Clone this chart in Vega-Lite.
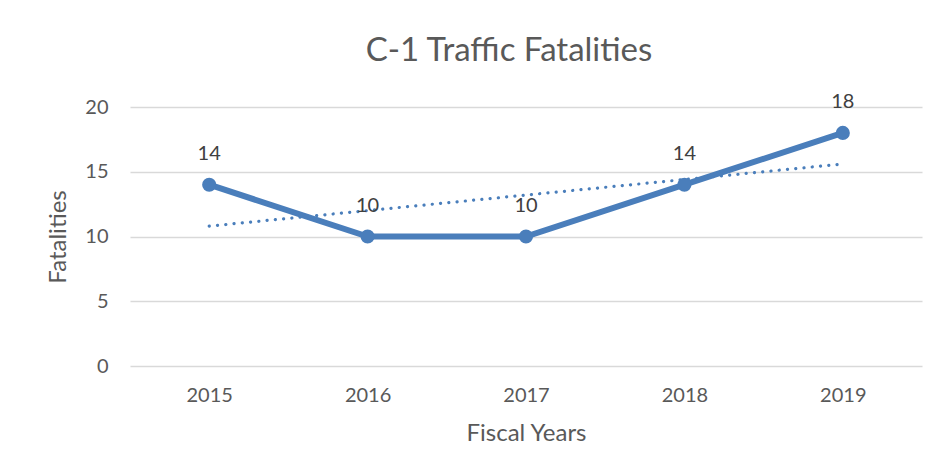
{
  "$schema": "https://vega.github.io/schema/vega-lite/v6.json",
  "autosize": "none",
  "width": 792,
  "height": 259,
  "padding": {"left": 130, "top": 107, "right": 18, "bottom": 110},
  "background": "white",
  "title": {
    "text": "C-1 Traffic Fatalities",
    "font": "Lato",
    "fontSize": 33,
    "fontWeight": "normal",
    "color": "#595959",
    "anchor": "middle",
    "dx": -17,
    "offset": 24
  },
  "data": {
    "values": [
      {"year": "2015", "fatalities": 14, "trend": 10.8},
      {"year": "2016", "fatalities": 10, "trend": 12.0},
      {"year": "2017", "fatalities": 10, "trend": 13.2},
      {"year": "2018", "fatalities": 14, "trend": 14.4},
      {"year": "2019", "fatalities": 18, "trend": 15.6}
    ]
  },
  "encoding": {
    "x": {
      "field": "year",
      "type": "ordinal",
      "scale": {"type": "point", "padding": 0.5},
      "axis": {
        "title": "Fiscal Years",
        "labelAngle": 0,
        "labelFont": "Lato",
        "labelFontSize": 20,
        "labelColor": "#595959",
        "labelPadding": 19,
        "ticks": false,
        "domain": false,
        "titleFont": "Lato",
        "titleFontSize": 24,
        "titleFontWeight": "normal",
        "titleColor": "#595959",
        "titlePadding": 16
      }
    }
  },
  "layer": [
    {
      "mark": {"type": "line", "color": "#4a7ebb", "strokeWidth": 3.2, "strokeDash": [0.1, 8.2], "strokeCap": "round"},
      "encoding": {
        "y": {"field": "trend", "type": "quantitative"}
      }
    },
    {
      "mark": {"type": "line", "color": "#4a7ebb", "strokeWidth": 6, "point": {"filled": true, "size": 200, "color": "#4a7ebb", "opacity": 1}},
      "encoding": {
        "y": {
          "field": "fatalities",
          "type": "quantitative",
          "scale": {"domain": [0, 20]},
          "axis": {
            "title": "Fatalities",
            "values": [0, 5, 10, 15, 20],
            "labelFont": "Lato",
            "labelFontSize": 20,
            "labelColor": "#595959",
            "labelPadding": 22,
            "ticks": false,
            "domain": false,
            "gridColor": "#d9d9d9",
            "gridWidth": 1.3,
            "titleFont": "Lato",
            "titleFontSize": 24,
            "titleFontWeight": "normal",
            "titleColor": "#595959",
            "titlePadding": 14
          }
        }
      }
    },
    {
      "mark": {"type": "text", "font": "Lato", "fontSize": 20, "color": "#404040", "dy": -31},
      "encoding": {
        "y": {"field": "fatalities", "type": "quantitative"},
        "text": {"field": "fatalities", "type": "quantitative"}
      }
    }
  ],
  "config": {"view": {"stroke": null}}
}
